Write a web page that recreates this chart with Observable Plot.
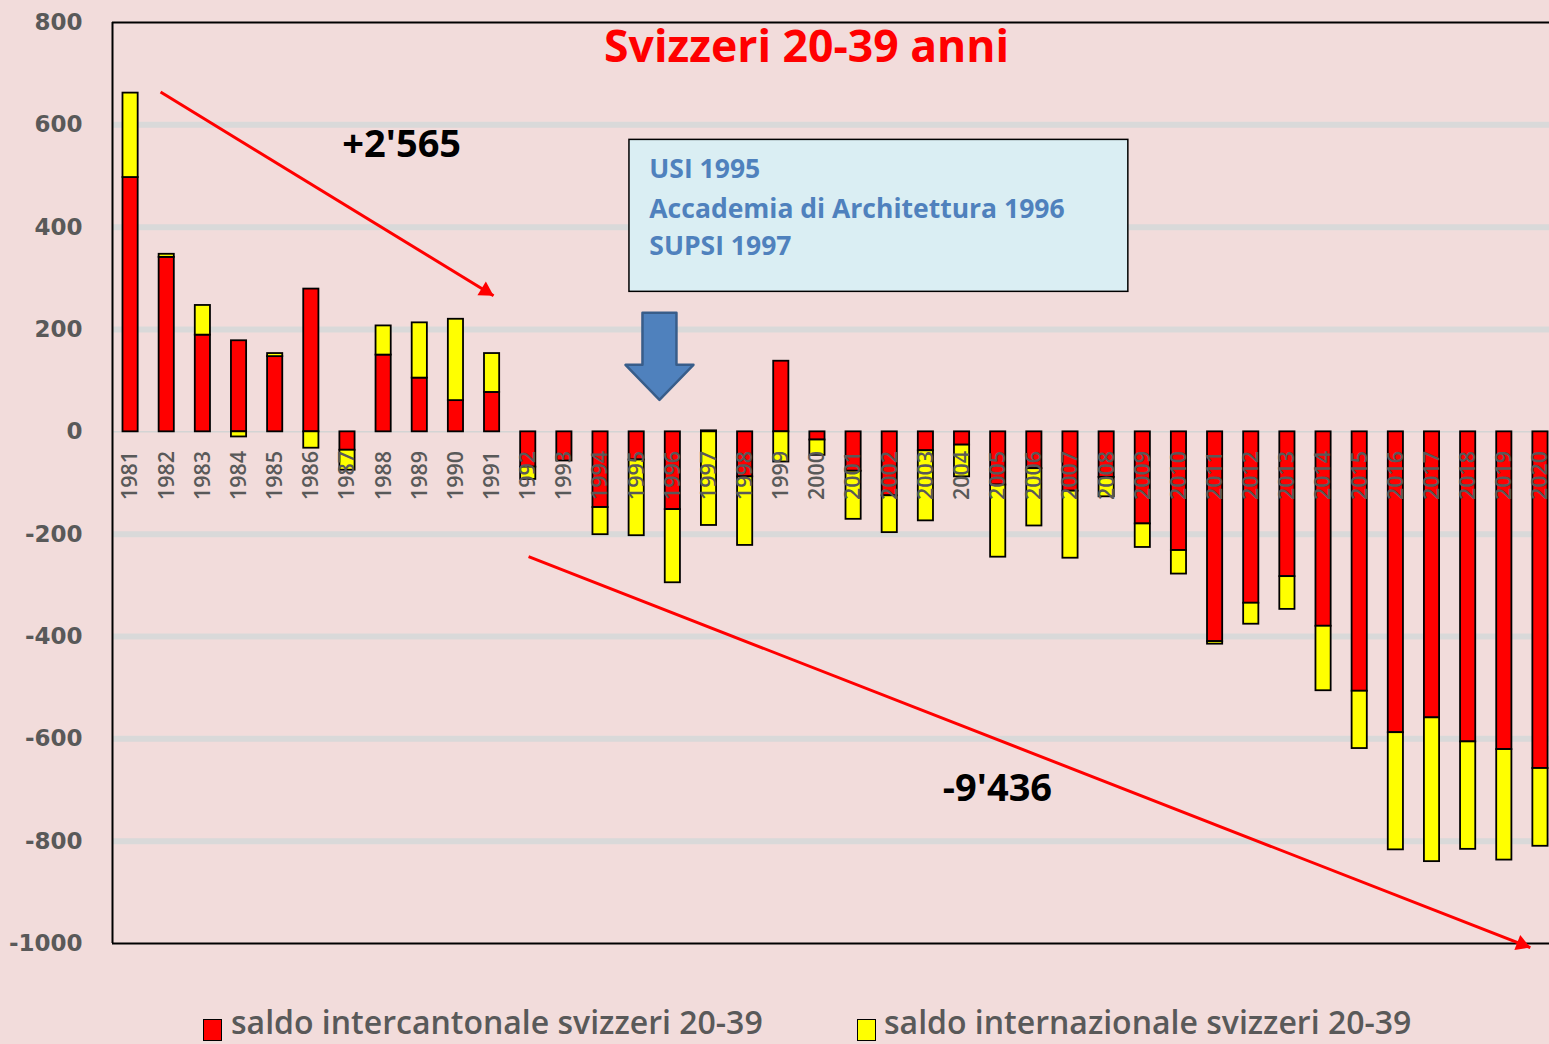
<!DOCTYPE html>
<html>
<head>
<meta charset="utf-8">
<script src="https://cdn.jsdelivr.net/npm/d3@7"></script>
<script src="https://cdn.jsdelivr.net/npm/@observablehq/plot@0.6"></script>
<style>
  html, body { margin: 0; padding: 0; background: #F2DCDB; overflow: hidden; }
  #wrap { position: relative; width: 1549px; height: 1044px; }
  #legend { position: absolute; left: 0; top: 1002px; width: 1549px; height: 40px;
            font-family: "Open Sans", sans-serif; font-size: 32px; font-weight: 600; color: #595959; }
  .sw { position: absolute; top: 17px; width: 17px; height: 20px; border: 1.5px solid #000; }
  .lab { position: absolute; top: 0; height: 40px; line-height: 40px; white-space: nowrap; }
</style>
</head>
<body>
<div id="wrap">
  <div id="chart"></div>
  <div id="legend"></div>
</div>
<script>
// ---- data ----
const years = [1981,1982,1983,1984,1985,1986,1987,1988,1989,1990,
               1991,1992,1993,1994,1995,1996,1997,1998,1999,2000,
               2001,2002,2003,2004,2005,2006,2007,2008,2009,2010,
               2011,2012,2013,2014,2015,2016,2017,2018,2019,2020];
const intercantonale = [497, 341, 189, 178, 147, 279, -36, 150, 105, 61,
                        77, -69, -57, -148, -55, -152, 2, -88, 138, -16,
                        -77, -125, -37, -26, -104, -72, -116, -89, -180, -232,
                        -410, -335, -283, -380, -507, -588, -559, -606, -621, -658];
const internazionale = [165, 6, 58, -10, 6, -32, -39, 57, 108, 159,
                        76, -24, 0, -53, -148, -143, -183, -134, -59, -30,
                        -94, -72, -137, -62, -141, -112, -131, -38, -46, -46,
                        -5, -41, -64, -126, -112, -229, -281, -210, -216, -152];
const seriesNames = ["saldo intercantonale svizzeri 20-39", "saldo internazionale svizzeri 20-39"];
const seriesColors = ["#FF0000", "#FFFF00"];
const yTicks = [-1000, -800, -600, -400, -200, 0, 200, 400, 600, 800];
const titleText = "Svizzeri 20-39 anni";
const noteTexts = ["+2'565", "-9'436"];
const boxLines = ["USI 1995", "Accademia di Architettura 1996", "SUPSI 1997"];

// ---- annotation anchors (data units: year, value) ----
const noteAnchors = [{x: 1988.5, y: 561}, {x: 2004.98, y: -698}];
const trendArrows = [
  {x1: 1981.83, y1: 664, x2: 1991.04, y2: 266},
  {x1: 1992.01, y1: -244, x2: 2019.72, y2: -1008}
];
const boxRect = {x1: 1994.80, x2: 2008.60, y1: 273.6, y2: 570.6};
const boxTextX = 1995.35;
const boxTextY = [512, 434, 361.5];
const titleAnchor = {x: 1999.70, y: 750};
const blockArrow = [
  [1995.16, 232.6], [1996.10, 232.6], [1996.10, 131], [1996.57, 131],
  [1995.63, 62.5], [1994.69, 131], [1995.16, 131], [1995.16, 232.6]
];

// ---- tables ----
const table = [];
years.forEach((yr, i) => {
  table.push({year: yr, series: seriesNames[0], value: intercantonale[i]});
  table.push({year: yr, series: seriesNames[1], value: internazionale[i]});
});
const yearLabels = years.map(yr => ({year: yr, label: String(yr)}));
const tickRows = yTicks.map(v => ({v, label: String(v)}));
const notes = noteTexts.map((t, i) => ({...noteAnchors[i], t}));
const boxRows = boxLines.map((t, i) => ({x: boxTextX, y: boxTextY[i], t}));
const blockPts = blockArrow.map(([x, y]) => ({x, y}));

const xDomain = [1980.5, 2020.25];
const halfBar = 0.21;

const chart = Plot.plot({
  width: 1549,
  height: 1000,
  marginLeft: 112,
  marginRight: 0,
  marginTop: 22,
  marginBottom: 57,
  style: {background: "#F2DCDB", overflow: "visible"},
  x: {domain: xDomain, axis: null},
  y: {domain: [-1000, 800], axis: null},
  color: {domain: seriesNames, range: seriesColors},
  marks: [
    // gridlines
    Plot.ruleY(yTicks.filter(v => v !== 0 && v !== -1000 && v !== 800), {stroke: "#D9D9D9", strokeWidth: 6}),
    Plot.ruleY([0], {stroke: "#D4D4D4", strokeWidth: 1.5}),
    // frame (left, top, bottom)
    Plot.ruleY([-1000, 800], {stroke: "#000", strokeWidth: 2}),
    Plot.ruleX([xDomain[0]], {stroke: "#000", strokeWidth: 2}),
    // y tick labels
    Plot.text(tickRows, {x: () => xDomain[0], y: "v", text: "label", textAnchor: "end", dx: -30,
      fontFamily: "DejaVu Sans", fontWeight: "bold", fontSize: 23, fill: "#595959"}),
    // stacked bars
    Plot.rectY(table, Plot.stackY({
      x1: d => d.year - halfBar, x2: d => d.year + halfBar,
      y: "value", fill: "series", stroke: "#000", strokeWidth: 1.8
    })),
    // year labels (rotated, drawn over bars)
    Plot.text(yearLabels, {x: "year", y: () => 0, text: "label", rotate: -90, textAnchor: "end",
      dy: 19, fontFamily: "Open Sans", fontWeight: 600, fontSize: 21.5, fill: "#595959"}),
    // title
    Plot.text([titleText], {x: () => titleAnchor.x, y: () => titleAnchor.y, text: d => d,
      fill: "#FF0000", fontFamily: "Open Sans", fontWeight: "bold", fontSize: 44.5}),
    // trend arrows
    Plot.link(trendArrows, {x1: "x1", y1: "y1", x2: "x2", y2: "y2", stroke: "#FF0000", strokeWidth: 3}),
    Plot.dot([trendArrows[0]], {x: "x2", y: "y2", symbol: "triangle", r: 6, rotate: 121.5,
      dx: -7.9, dy: -4.9, fill: "#FF0000", stroke: "none"}),
    Plot.dot([trendArrows[1]], {x: "x2", y: "y2", symbol: "triangle", r: 6, rotate: 111.3,
      dx: -8.7, dy: -3.4, fill: "#FF0000", stroke: "none"}),
    // totals
    Plot.text(notes, {x: "x", y: "y", text: "t", fill: "#000", fontFamily: "Open Sans",
      fontWeight: "bold", fontSize: 38}),
    // info box
    Plot.rect([boxRect], {x1: "x1", x2: "x2", y1: "y1", y2: "y2", fill: "#DAEEF3", stroke: "#000", strokeWidth: 1.5}),
    Plot.text(boxRows, {x: "x", y: "y", text: "t", textAnchor: "start", fill: "#4F81BD",
      fontFamily: "Open Sans", fontWeight: "bold", fontSize: 26.5}),
    // blue block arrow
    Plot.line(blockPts, {x: "x", y: "y", fill: "#4F81BD", stroke: "#385D8A", strokeWidth: 2.5, curve: "linear"})
  ]
});
document.getElementById("chart").appendChild(chart);

// legend
const legend = document.getElementById("legend");
const legendPos = [{sw: 203, lab: 231}, {sw: 857, lab: 884}];
seriesNames.forEach((name, i) => {
  const sw = document.createElement("div");
  sw.className = "sw";
  sw.style.left = legendPos[i].sw + "px";
  sw.style.background = seriesColors[i];
  const lab = document.createElement("div");
  lab.className = "lab";
  lab.style.left = legendPos[i].lab + "px";
  lab.textContent = name;
  legend.appendChild(sw);
  legend.appendChild(lab);
});
</script>
</body>
</html>
